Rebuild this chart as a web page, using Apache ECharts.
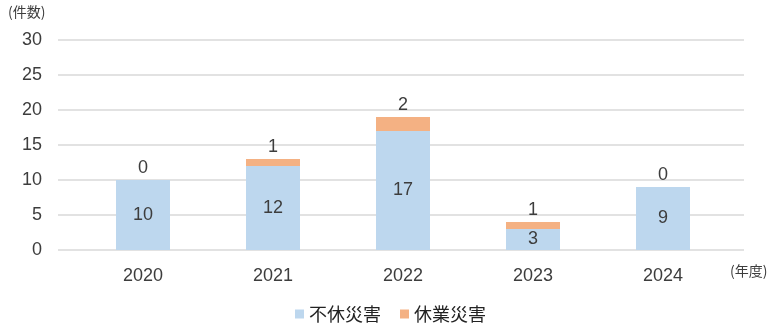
<!DOCTYPE html>
<html><head><meta charset="utf-8">
<script src="https://cdn.jsdelivr.net/npm/echarts@6/dist/echarts.min.js"></script>
<style>html,body{margin:0;padding:0;background:#fff}#c{width:781px;height:325px}</style>
</head><body><div id="c"></div>
<script>
const categories = ['2020', '2021', '2022', '2023', '2024'];
const noLostTime = [10, 12, 17, 3, 9];
const lostTime = [0, 1, 2, 1, 0];
const seriesNames = ['不休災害', '休業災害'];
const yTicks = { min: 0, max: 30, interval: 5 };

const FONT = '"Liberation Sans", "Noto Sans CJK JP", sans-serif';
const TXT = '#3d3d3d';
const chart = echarts.init(document.getElementById('c'));
chart.setOption({
  animation: false,
  textStyle: { fontFamily: FONT },
  grid: [
    { left: 58, right: 37, top: 40, bottom: 75 },
    { left: 78, right: 53, top: 40, bottom: 75 }
  ],
  xAxis: [
    { gridIndex: 0, type: 'value', min: 0, max: 1, show: false },
    { gridIndex: 1, type: 'category', data: categories,
      axisLine: { show: false }, axisTick: { show: false },
      axisLabel: { color: TXT, fontSize: 18, margin: 17, fontFamily: FONT } }
  ],
  yAxis: [
    { gridIndex: 0, type: 'value', min: yTicks.min, max: yTicks.max, interval: yTicks.interval,
      axisLine: { show: false }, axisTick: { show: false },
      splitLine: { lineStyle: { color: '#d9d9d9', width: 1.5 } },
      axisLabel: { color: TXT, fontSize: 18, margin: 16, fontFamily: FONT } },
    { gridIndex: 1, type: 'value', min: yTicks.min, max: yTicks.max, interval: yTicks.interval, show: false,
      splitLine: { show: false } }
  ],
  legend: {
    top: 300, left: 'center', itemWidth: 9, itemHeight: 9, itemGap: 19,
    icon: 'rect',
    textStyle: { color: '#222', fontSize: 18, fontFamily: '"Noto Sans CJK JP", sans-serif' },
    data: seriesNames
  },
  graphic: [
    { type: 'text', left: 8, top: 5, style: { text: '(件数)', fill: TXT, font: '14px "Noto Sans CJK JP", sans-serif' } },
    { type: 'text', left: 730, top: 264, style: { text: '(年度)', fill: TXT, font: '14px "Noto Sans CJK JP", sans-serif' } }
  ],
  series: [
    { name: seriesNames[0], type: 'bar', stack: 's', xAxisIndex: 1, yAxisIndex: 1,
      data: noLostTime, barWidth: 54, itemStyle: { color: '#BDD7EE' },
      label: { show: true, position: 'inside', color: TXT, fontSize: 18, fontFamily: FONT } },
    { name: seriesNames[1], type: 'bar', stack: 's', xAxisIndex: 1, yAxisIndex: 1,
      data: lostTime, barWidth: 54, itemStyle: { color: '#F4B183' },
      label: { show: true, position: 'top', distance: 3, color: TXT, fontSize: 18, fontFamily: FONT } }
  ]
});
</script></body></html>
